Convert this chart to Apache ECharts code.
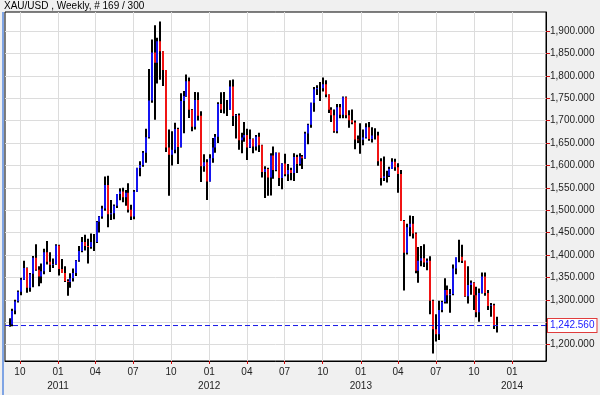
<!DOCTYPE html>
<html><head><meta charset="utf-8">
<script src="https://cdn.jsdelivr.net/npm/echarts@6/dist/echarts.min.js"></script>
<style>html,body{margin:0;padding:0;background:#f0f0f0}#c{width:600px;height:395px}</style>
</head><body><div id="c"></div>
<script>
const titleText = 'XAU/USD , Weekly, # 169 / 300';
const firstWeek = '2010-09-06'; // weekly bars, one per week from this date
const lastPriceLabel = '1,242.560';
const lastPrice = 1242.56;

const opens = [1246,1245,1276,1297,1318,1345,1371,1327,1358,1394,
1367,1352,1364,1406,1385,1378,1380,1421,1369,1360,
1342,1340,1348,1360,1388,1409,1429,1420,1418,1429,
1429,1474,1486,1504,1556,1491,1493,1510,1536,1542,
1529,1539,1501,1486,1541,1594,1601,1628,1663,1745,
1852,1829,1877,1855,1813,1640,1624,1635,1681,1641,
1744,1755,1788,1724,1686,1746,1711,1598,1607,1564,
1616,1640,1664,1737,1725,1725,1725,1776,1710,1712,
1656,1662,1668,1640,1659,1642,1664,1645,1585,1592,
1573,1622,1590,1628,1572,1604,1580,1590,1583,1619,
1603,1620,1616,1671,1691,1740,1770,1773,1772,1781,
1758,1724,1712,1676,1730,1713,1752,1712,1701,1696,
1658,1656,1657,1662,1685,1659,1667,1667,1609,1572,
1576,1577,1592,1608,1596,1581,1476,1405,1462,1470,
1448,1365,1387,1393,1383,1387,1298,1234,1223,1277,
1295,1322,1310,1313,1370,1395,1396,1387,1308,1333,
1338,1310,1272,1315,1352,1315,1286,1288,1244];
const highs = [1259,1280,1300,1321,1349,1387,1372,1360,1398,1424,
1375,1381,1414,1431,1406,1392,1424,1423,1391,1375,
1346,1359,1370,1389,1420,1440,1445,1436,1448,1447,
1476,1487,1510,1575,1577,1523,1513,1536,1549,1550,
1545,1560,1512,1545,1595,1609,1632,1682,1815,1881,
1913,1885,1921,1855,1813,1680,1676,1695,1684,1761,
1766,1803,1796,1726,1764,1763,1721,1625,1614,1625,
1661,1670,1741,1763,1764,1746,1790,1792,1715,1716,
1673,1697,1682,1680,1660,1668,1673,1646,1598,1595,
1627,1642,1629,1628,1605,1626,1603,1595,1627,1624,
1627,1623,1675,1693,1740,1775,1779,1786,1796,1790,
1758,1730,1725,1737,1737,1754,1754,1723,1725,1700,
1667,1694,1680,1694,1697,1685,1683,1675,1616,1620,
1588,1597,1616,1615,1605,1590,1478,1470,1488,1487,
1450,1418,1420,1424,1392,1397,1300,1268,1298,1298,
1348,1332,1324,1379,1394,1434,1423,1387,1375,1343,
1339,1329,1325,1361,1361,1322,1293,1291,1262];
const lows = [1240,1241,1268,1294,1310,1344,1316,1318,1328,1365,
1330,1337,1357,1379,1362,1371,1378,1354,1360,1340,
1309,1327,1341,1353,1385,1406,1410,1381,1414,1409,
1427,1450,1481,1499,1462,1478,1480,1505,1522,1518,
1510,1495,1478,1480,1541,1576,1597,1606,1660,1740,
1702,1783,1791,1777,1630,1532,1600,1627,1603,1640,
1672,1753,1706,1676,1680,1700,1563,1586,1523,1564,
1606,1628,1650,1717,1716,1710,1724,1688,1660,1635,
1627,1653,1612,1639,1627,1633,1630,1573,1527,1532,
1533,1570,1587,1554,1547,1576,1565,1567,1565,1583,
1599,1592,1615,1647,1684,1720,1757,1744,1765,1752,
1717,1697,1673,1672,1705,1705,1705,1684,1692,1636,
1650,1626,1645,1660,1655,1651,1658,1599,1555,1565,
1562,1574,1592,1588,1539,1476,1321,1401,1442,1437,
1359,1338,1375,1373,1366,1268,1180,1207,1210,1272,
1292,1292,1271,1310,1357,1384,1382,1307,1292,1311,
1277,1261,1251,1314,1309,1277,1262,1235,1227];
const closes = [1246,1275,1296,1318,1345,1371,1327,1357,1394,1367,
1352,1364,1406,1385,1378,1380,1421,1369,1360,1342,
1340,1348,1360,1388,1409,1429,1420,1418,1429,1429,
1474,1486,1504,1556,1491,1493,1510,1536,1542,1529,
1539,1501,1486,1541,1594,1601,1628,1663,1745,1852,
1829,1877,1855,1813,1640,1624,1635,1681,1641,1744,
1755,1788,1724,1686,1746,1711,1598,1607,1564,1616,
1640,1664,1737,1725,1725,1725,1776,1710,1712,1656,
1662,1668,1640,1659,1642,1664,1645,1585,1592,1573,
1622,1590,1628,1572,1604,1580,1590,1583,1619,1603,
1620,1616,1671,1691,1740,1770,1773,1772,1781,1758,
1724,1712,1676,1730,1713,1752,1712,1701,1696,1658,
1656,1657,1662,1685,1659,1667,1667,1609,1572,1576,
1577,1592,1608,1596,1581,1476,1405,1462,1470,1448,
1365,1387,1393,1383,1387,1298,1234,1223,1277,1295,
1322,1310,1313,1370,1395,1396,1387,1308,1333,1338,
1310,1272,1315,1352,1315,1286,1288,1244,1242.56];

const xTicks = ['2010-10-01','2011-01-01','2011-04-01','2011-07-01','2011-10-01',
'2012-01-01','2012-04-01','2012-07-01','2012-10-01','2013-01-01','2013-04-01',
'2013-07-01','2013-10-01','2014-01-01'];
const yTicks = [1200,1250,1300,1350,1400,1450,1500,1550,1600,1650,1700,1750,1800,1850,1900];
// 1,250 label is hidden behind the last-price box in the reference
const yLabels = [1200,1300,1350,1400,1450,1500,1550,1600,1650,1700,1750,1800,1850,1900];

const WEEK = 7 * 86400000;
const t0 = Date.parse(firstWeek);
const data = opens.map((o, i) => [t0 + i * WEEK, o, highs[i], lows[i], closes[i]]);
const xTickVals = xTicks.map(s => Date.parse(s));
const xMin = Date.parse('2010-08-26');
const xMax = Date.parse('2014-03-24');

function fmtPrice(v) {
  const s = v.toFixed(3);
  const parts = s.split('.');
  return parts[0].replace(/\B(?=(\d{3})+(?!\d))/g, ',') + '.' + parts[1];
}

const LINE_BLUE = '#1818e8';
const chart = echarts.init(document.getElementById('c'));
const FONT = 'Liberation Sans';
chart.setOption({
  animation: false,
  backgroundColor: '#f0f0f0',
  textStyle: { fontFamily: FONT },
  title: {
    text: titleText, left: 4, top: 0, padding: 0,
    textStyle: { fontSize: 10, fontWeight: 'normal', color: '#000', fontFamily: FONT, lineHeight: 12 }
  },
  graphic: [{
    type: 'line', silent: true,
    shape: { x1: 3, y1: 12, x2: 3, y2: 395 },
    style: { stroke: '#5a8be0', lineWidth: 1.5 }
  }],
  grid: {
    left: 5, right: 54, top: 12, bottom: 34,
    show: true, backgroundColor: '#fff', borderColor: '#000', borderWidth: 1
  },
  xAxis: {
    type: 'value',
    min: xMin,
    max: xMax,
    axisLine: { show: true, lineStyle: { color: '#000' } },
    axisTick: { show: true, length: 3, customValues: xTickVals, lineStyle: { color: '#d01010' } },
    axisLabel: {
      customValues: xTickVals, margin: 4, fontSize: 10, color: '#222', lineHeight: 14,
      fontFamily: FONT, showMinLabel: true, showMaxLabel: true,
      formatter: function (val) {
        const d = new Date(val);
        const m = d.getUTCMonth() + 1;
        const s = (m < 10 ? '0' : '') + m;
        return m === 1 ? s + '\n' + d.getUTCFullYear() : s;
      }
    },
    splitLine: { show: true, lineStyle: { color: '#dcdcdc', width: 1 } }
  },
  yAxis: {
    type: 'value', position: 'right',
    min: 1163.4, max: 1942.4, scale: true,
    axisLine: { show: true, lineStyle: { color: '#000' } },
    axisTick: { show: true, length: 4, customValues: yTicks, lineStyle: { color: '#d01010' } },
    axisLabel: {
      customValues: yLabels, margin: 4, fontSize: 10, color: '#222', fontFamily: FONT,
      formatter: v => fmtPrice(v)
    },
    splitLine: { show: true, lineStyle: { color: '#dcdcdc', width: 1 } }
  },
  series: [{
    type: 'custom',
    data: data,
    encode: { x: 0, y: [1, 2, 3, 4] },
    clip: true,
    renderItem: function (params, api) {
      const t = api.value(0), o = api.value(1), h = api.value(2), l = api.value(3), c = api.value(4);
      const pH = api.coord([t, h]), pL = api.coord([t, l]);
      const pO = api.coord([t, o]), pC = api.coord([t, c]);
      const x = Math.round(pH[0]) - 1;
      const children = [{
        type: 'rect',
        shape: { x: x, y: pH[1], width: 2, height: Math.max(1, pL[1] - pH[1]) },
        style: { fill: '#000' }
      }];
      if (Math.abs(pC[1] - pO[1]) >= 0.5) {
        children.push({
          type: 'rect',
          shape: { x: x, y: Math.min(pO[1], pC[1]), width: 2, height: Math.abs(pC[1] - pO[1]) },
          style: { fill: c > o ? '#1414f0' : '#f01414' }
        });
      }
      return { type: 'group', children: children };
    }
  }, {
    // last-price dashed line across the plot
    type: 'line',
    z: 9,
    silent: true,
    symbol: 'none',
    color: LINE_BLUE,
    lineStyle: { color: LINE_BLUE, type: [5, 3], width: 1 },
    data: [[xMin, lastPrice], [xMax, lastPrice]],
    markPoint: {
      silent: true, symbol: 'rect', symbolSize: [0, 0],
      label: {
        show: true, position: 'right', distance: 2,
        formatter: lastPriceLabel,
        color: '#2020ff', backgroundColor: '#fff',
        borderColor: '#e03c3c', borderWidth: 1, padding: [2, 2, 1, 2],
        fontSize: 10, fontFamily: FONT
      },
      data: [{ coord: [xMax, lastPrice] }]
    }
  }]
});
</script>
</body></html>
